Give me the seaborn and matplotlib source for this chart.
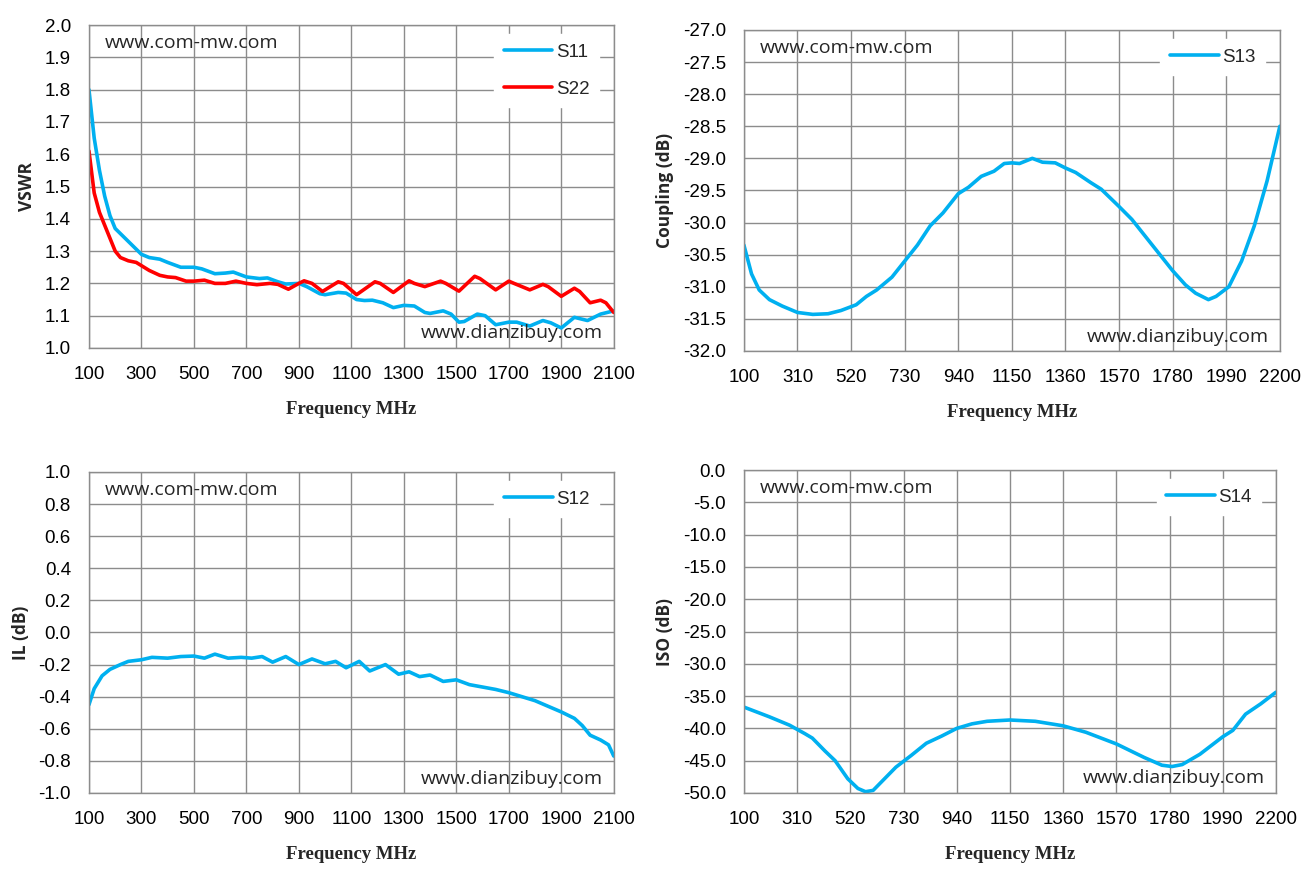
import numpy as np
import pandas as pd
import matplotlib
matplotlib.use("Agg")
import matplotlib.pyplot as plt
import seaborn as sns

# --- DATA ---
vswr_s11_f = [100, 120, 140, 160, 180, 200, 250, 300, 330, 370, 400, 450, 500, 530,
              580, 620, 650, 700, 750, 780, 820, 850, 900, 930, 980, 1000, 1050, 1080,
              1120, 1150, 1180, 1220, 1260, 1300, 1340, 1380, 1400, 1450, 1480, 1510,
              1530, 1580, 1610, 1650, 1700, 1730, 1780, 1830, 1860, 1900, 1950, 2000,
              2050, 2100]
vswr_s11 = [1.80, 1.65, 1.55, 1.47, 1.41, 1.37, 1.33, 1.29, 1.28, 1.275, 1.265, 1.25,
            1.25, 1.245, 1.23, 1.232, 1.235, 1.22, 1.215, 1.217, 1.205, 1.198, 1.20,
            1.19, 1.168, 1.165, 1.172, 1.17, 1.15, 1.147, 1.148, 1.14, 1.125, 1.132,
            1.13, 1.11, 1.107, 1.115, 1.105, 1.08, 1.082, 1.105, 1.10, 1.072, 1.08,
            1.08, 1.068, 1.085, 1.078, 1.062, 1.095, 1.085, 1.105, 1.115]

vswr_s22_f = [100, 120, 140, 160, 180, 200, 220, 250, 280, 300, 330, 370, 400, 430,
              470, 500, 540, 580, 620, 660, 700, 740, 790, 820, 860, 900, 920, 950,
              990, 1050, 1070, 1120, 1190, 1210, 1260, 1320, 1340, 1380, 1440, 1460,
              1510, 1570, 1590, 1650, 1700, 1720, 1780, 1830, 1850, 1900, 1950, 1970,
              2010, 2050, 2070, 2100]
vswr_s22 = [1.61, 1.48, 1.42, 1.38, 1.34, 1.30, 1.28, 1.27, 1.265, 1.255, 1.24, 1.225,
            1.22, 1.218, 1.207, 1.207, 1.21, 1.20, 1.20, 1.207, 1.20, 1.196, 1.20,
            1.197, 1.182, 1.20, 1.208, 1.20, 1.175, 1.205, 1.20, 1.165, 1.205, 1.20,
            1.172, 1.208, 1.20, 1.19, 1.207, 1.20, 1.176, 1.222, 1.215, 1.18, 1.207,
            1.20, 1.18, 1.197, 1.19, 1.16, 1.185, 1.175, 1.14, 1.148, 1.14, 1.11]

il_f = [100, 120, 150, 180, 220, 250, 300, 340, 400, 450, 500, 540, 580, 630, 680,
        720, 760, 800, 850, 900, 950, 1000, 1040, 1080, 1130, 1170, 1230, 1280, 1320,
        1360, 1400, 1450, 1500, 1550, 1600, 1650, 1700, 1750, 1800, 1850, 1900, 1950,
        1980, 2010, 2050, 2080, 2100]
il_s12 = [-0.45, -0.35, -0.27, -0.23, -0.20, -0.18, -0.17, -0.155, -0.16, -0.15,
          -0.147, -0.16, -0.135, -0.16, -0.155, -0.16, -0.15, -0.185, -0.15, -0.20,
          -0.165, -0.195, -0.18, -0.22, -0.18, -0.24, -0.20, -0.26, -0.245, -0.275,
          -0.265, -0.305, -0.295, -0.325, -0.34, -0.355, -0.375, -0.40, -0.425,
          -0.46, -0.495, -0.535, -0.58, -0.64, -0.67, -0.70, -0.77]

cp_f = [100, 130, 160, 200, 250, 310, 370, 430, 480, 540, 580, 620, 680, 730, 780,
        830, 880, 940, 980, 1030, 1080, 1120, 1150, 1180, 1230, 1270, 1320, 1360,
        1400, 1460, 1500, 1570, 1620, 1680, 1730, 1780, 1830, 1870, 1920, 1950, 2000,
        2050, 2100, 2150, 2200]
cp_s13 = [-30.35, -30.8, -31.05, -31.2, -31.3, -31.4, -31.43, -31.42, -31.37, -31.28,
          -31.15, -31.05, -30.85, -30.6, -30.35, -30.05, -29.85, -29.55, -29.45,
          -29.28, -29.2, -29.08, -29.07, -29.08, -29.0, -29.06, -29.07, -29.15,
          -29.22, -29.38, -29.48, -29.75, -29.95, -30.25, -30.5, -30.75, -30.97,
          -31.1, -31.2, -31.15, -31.0, -30.6, -30.05, -29.35, -28.5]

iso_f = [100, 200, 280, 340, 370, 420, 460, 510, 550, 580, 610, 650, 700, 760, 820,
         880, 940, 1000, 1060, 1150, 1250, 1360, 1450, 1570, 1680, 1750, 1790, 1830,
         1900, 1950, 1990, 2030, 2080, 2140, 2200]
iso_s14 = [-36.7, -38.2, -39.5, -40.8, -41.5, -43.5, -45.0, -47.8, -49.3, -49.8,
           -49.6, -48.0, -46.0, -44.2, -42.3, -41.2, -40.0, -39.3, -38.9, -38.7,
           -38.9, -39.6, -40.6, -42.4, -44.5, -45.7, -45.9, -45.6, -44.0, -42.5,
           -41.3, -40.3, -37.8, -36.2, -34.4]

ticks_a = [100, 300, 500, 700, 900, 1100, 1300, 1500, 1700, 1900, 2100]
ticks_b = [100, 310, 520, 730, 940, 1150, 1360, 1570, 1780, 1990, 2200]

BLUE = "#00B0F0"
RED = "#FF0000"
GRID = "#8C8C8C"
TICK_FONT = ["Liberation Sans", "DejaVu Sans"]
WM_FONT = ["Open Sans", "DejaVu Sans"]

sns.set_style("white")


def style_axis(ax, xticks, ylim, ystep, ylabel):
    ax.set_xlim(xticks[0], xticks[-1])
    ax.set_ylim(*ylim)
    ax.set_xticks(xticks)
    yt = np.round(np.arange(ylim[0], ylim[1] + ystep / 2, ystep), 6)
    ax.set_yticks(yt)
    ax.set_yticklabels(["{:.1f}".format(v + 0.0) if abs(v) > 1e-9 else "0.0" for v in yt])
    ax.grid(True, color=GRID, linewidth=1.0)
    ax.set_axisbelow(True)
    for s in ax.spines.values():
        s.set_color(GRID)
        s.set_linewidth(1.0)
    ax.tick_params(axis="both", direction="out", length=5, width=1.0,
                   color=GRID, labelsize=13.5, labelcolor="black", pad=8)
    for lab in ax.get_xticklabels() + ax.get_yticklabels():
        lab.set_family(TICK_FONT)
    ax.set_xlabel("Frequency MHz", fontsize=13.5, fontweight="bold",
                  family=["Liberation Serif", "DejaVu Serif"], labelpad=13)
    ax.set_ylabel(ylabel, fontsize=12.5, fontweight="bold",
                  family=WM_FONT, labelpad=6)
    ax.text(0.03, 0.945, "www.com-mw.com", transform=ax.transAxes, fontsize=14,
            family=WM_FONT, va="center", ha="left")
    ax.text(0.98, 0.045, "www.dianzibuy.com", transform=ax.transAxes, fontsize=14,
            family=WM_FONT, va="center", ha="right")


def add_legend(ax):
    ax.legend(loc="upper right", bbox_to_anchor=(0.99, 1.0), frameon=True,
              fancybox=False, edgecolor="white", framealpha=1.0,
              handlelength=2.6, handletextpad=0.2, labelspacing=1.05,
              borderpad=0.5, prop={"family": TICK_FONT, "size": 13.5})


fig = plt.figure(figsize=(13.12, 8.81), dpi=100)
ax1 = fig.add_axes([0.0678, 0.605, 0.400, 0.3666])
ax2 = fig.add_axes([0.567, 0.6016, 0.4085, 0.3644])
ax3 = fig.add_axes([0.0678, 0.0999, 0.400, 0.3644])
ax4 = fig.add_axes([0.567, 0.0999, 0.4055, 0.3666])

lw = 2.6
sns.lineplot(x=vswr_s11_f, y=vswr_s11, ax=ax1, color=BLUE, linewidth=lw, label="S11")
sns.lineplot(x=vswr_s22_f, y=vswr_s22, ax=ax1, color=RED, linewidth=lw, label="S22")
style_axis(ax1, ticks_a, (1.0, 2.0), 0.1, "VSWR")
add_legend(ax1)

sns.lineplot(x=cp_f, y=cp_s13, ax=ax2, color=BLUE, linewidth=lw, label="S13")
style_axis(ax2, ticks_b, (-32.0, -27.0), 0.5, "Coupling (dB)")
add_legend(ax2)

sns.lineplot(x=il_f, y=il_s12, ax=ax3, color=BLUE, linewidth=lw, label="S12")
style_axis(ax3, ticks_a, (-1.0, 1.0), 0.2, "IL (dB)")
add_legend(ax3)

sns.lineplot(x=iso_f, y=iso_s14, ax=ax4, color=BLUE, linewidth=lw, label="S14")
style_axis(ax4, ticks_b, (-50.0, 0.0), 5.0, "ISO (dB)")
add_legend(ax4)

fig.savefig("out.png", dpi=100)
